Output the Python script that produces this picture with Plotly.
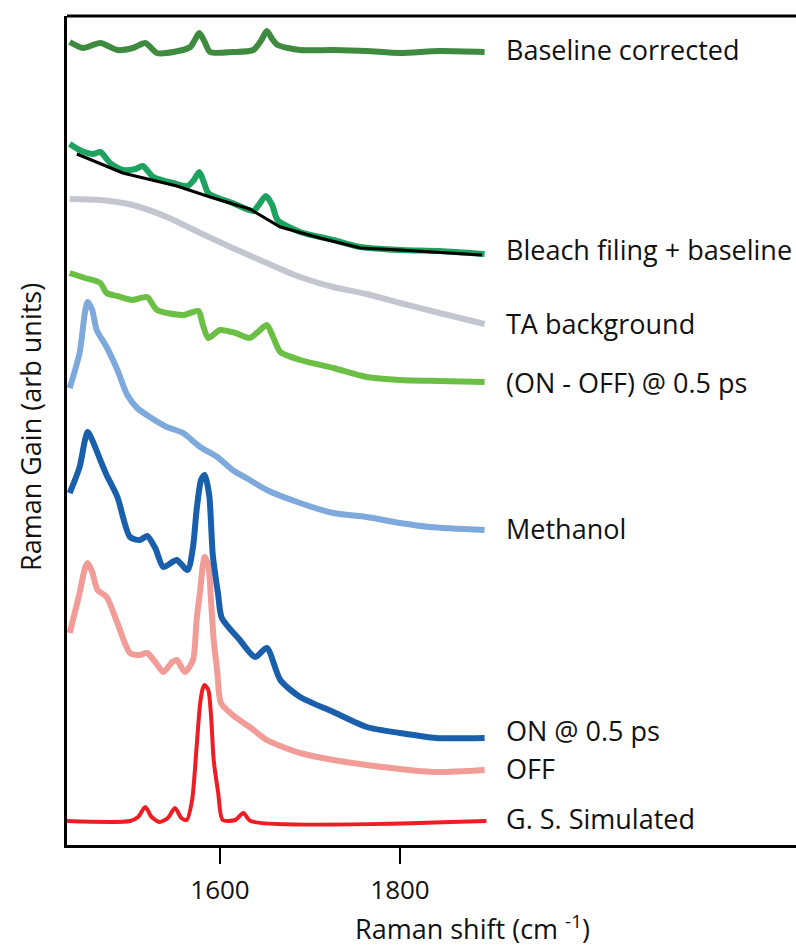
import plotly.graph_objects as go

# Raman shift (cm^-1) and gain (arb. units) for each stacked spectrum
bc_x = [1433, 1448, 1467, 1486, 1503, 1517, 1530, 1548, 1567, 1572, 1577, 1583, 1589, 1614, 1637, 1646, 1652, 1658, 1664, 1689, 1726, 1763, 1800, 1844, 1894]
bc_y = [8.03, 7.97, 8.02, 7.95, 7.97, 8.02, 7.92, 7.93, 7.98, 8.05, 8.12, 8.03, 7.93, 7.93, 7.95, 8.05, 8.14, 8.06, 8.00, 7.95, 7.95, 7.94, 7.92, 7.94, 7.93]

bb_x = [1433, 1444, 1459, 1467, 1478, 1492, 1506, 1514, 1526, 1548, 1564, 1571, 1577, 1582, 1587, 1614, 1637, 1643, 1651, 1658, 1664, 1689, 1726, 1756, 1800, 1844, 1894]
bb_y = [7.01, 6.95, 6.91, 6.93, 6.82, 6.75, 6.76, 6.79, 6.68, 6.62, 6.59, 6.65, 6.73, 6.63, 6.52, 6.42, 6.34, 6.40, 6.49, 6.40, 6.25, 6.13, 6.05, 5.98, 5.95, 5.94, 5.91]

fit_x = [1441, 1492, 1552, 1589, 1633, 1667, 1711, 1756, 1800, 1891]
fit_y = [6.91, 6.72, 6.59, 6.48, 6.36, 6.18, 6.07, 5.97, 5.95, 5.90]

ta_x = [1433, 1467, 1503, 1541, 1578, 1614, 1652, 1689, 1726, 1763, 1800, 1844, 1894]
ta_y = [6.46, 6.45, 6.40, 6.28, 6.12, 5.97, 5.82, 5.68, 5.58, 5.51, 5.42, 5.32, 5.21]

diff_x = [1433, 1450, 1467, 1474, 1486, 1503, 1519, 1530, 1559, 1576, 1581, 1587, 1600, 1617, 1633, 1642, 1652, 1659, 1667, 1689, 1726, 1763, 1800, 1844, 1894]
diff_y = [5.72, 5.67, 5.62, 5.52, 5.49, 5.45, 5.48, 5.35, 5.30, 5.34, 5.20, 5.07, 5.15, 5.12, 5.07, 5.13, 5.20, 5.08, 4.93, 4.85, 4.77, 4.68, 4.65, 4.64, 4.63]

meoh_x = [1433, 1444, 1450, 1453, 1458, 1463, 1474, 1486, 1497, 1508, 1522, 1541, 1559, 1578, 1597, 1614, 1633, 1652, 1689, 1726, 1763, 1800, 1833, 1894]
meoh_y = [4.57, 4.92, 5.33, 5.43, 5.35, 5.15, 4.98, 4.75, 4.50, 4.37, 4.28, 4.18, 4.12, 3.98, 3.88, 3.75, 3.65, 3.55, 3.42, 3.32, 3.28, 3.22, 3.18, 3.15]

on_x = [1433, 1444, 1450, 1453, 1458, 1467, 1474, 1486, 1500, 1511, 1519, 1528, 1537, 1547, 1552, 1564, 1570, 1574, 1579, 1583, 1588, 1592, 1598, 1602, 1622, 1639, 1652, 1667, 1689, 1726, 1763, 1800, 1840, 1894]
on_y = [3.52, 3.78, 4.05, 4.13, 4.05, 3.85, 3.70, 3.48, 3.08, 3.05, 3.09, 2.97, 2.78, 2.83, 2.85, 2.75, 2.98, 3.35, 3.65, 3.70, 3.50, 2.90, 2.50, 2.27, 2.05, 1.88, 1.97, 1.65, 1.48, 1.33, 1.18, 1.12, 1.07, 1.07]

off_x = [1433, 1444, 1450, 1453, 1458, 1464, 1474, 1486, 1500, 1511, 1519, 1528, 1537, 1547, 1552, 1561, 1570, 1574, 1578, 1581, 1583, 1587, 1590, 1593, 1597, 1601, 1614, 1633, 1652, 1670, 1689, 1726, 1763, 1800, 1840, 1894]
off_y = [2.12, 2.52, 2.77, 2.82, 2.73, 2.55, 2.48, 2.22, 1.92, 1.90, 1.92, 1.83, 1.73, 1.83, 1.85, 1.73, 1.85, 2.25, 2.55, 2.80, 2.88, 2.80, 2.45, 2.05, 1.73, 1.42, 1.30, 1.18, 1.05, 0.98, 0.92, 0.85, 0.80, 0.76, 0.73, 0.75]

sim_x = [1430, 1500, 1509, 1517, 1524, 1533, 1542, 1550, 1557, 1563, 1569, 1574, 1578, 1581, 1583, 1587, 1590, 1593, 1598, 1603, 1617, 1626, 1634, 1896]
sim_y = [0.24, 0.24, 0.28, 0.38, 0.28, 0.23, 0.27, 0.37, 0.27, 0.25, 0.45, 0.98, 1.42, 1.57, 1.60, 1.55, 1.30, 0.85, 0.52, 0.25, 0.25, 0.32, 0.24, 0.24]

labels = ["Baseline corrected", "Bleach filing + baseline", "TA background",
          "(ON - OFF) @ 0.5 ps", "Methanol", "ON @ 0.5 ps", "OFF", "G. S. Simulated"]
label_y = [7.96, 5.96, 5.22, 4.63, 3.17, 1.15, 0.77, 0.27]

x_ticks = [1600, 1800]
x_range = [1430, 2240]
y_range = [0, 8.29]
label_x = 1916

FONT = "Open Sans"
TXT = "#111111"

series = [
    (bc_x, bc_y, "#3e8a3f", 6, "spline"),
    (bb_x, bb_y, "#1ea25f", 6, "spline"),
    (fit_x, fit_y, "#000000", 3, "linear"),
    (ta_x, ta_y, "#c3c6cf", 6, "spline"),
    (diff_x, diff_y, "#6cbf45", 6, "spline"),
    (meoh_x, meoh_y, "#7ea9dc", 6, "spline"),
    (off_x, off_y, "#f19c97", 6, "spline"),
    (on_x, on_y, "#1a5fab", 6, "spline"),
    (sim_x, sim_y, "#ee1d24", 4, "spline"),
]

fig = go.Figure()
for xs, ys, color, width, shape in series:
    fig.add_trace(go.Scatter(
        x=xs, y=ys, mode="lines",
        line=dict(color=color, width=width, shape=shape, smoothing=0.7),
        hoverinfo="skip", showlegend=False,
    ))

annotations = []
for text, yv in zip(labels, label_y):
    annotations.append(dict(
        x=label_x, y=yv, xref="x", yref="y", text=text, showarrow=False,
        xanchor="left", yanchor="middle",
        font=dict(family=FONT, size=27, color=TXT),
    ))
annotations.append(dict(
    x=-0.051, y=0.504, xref="paper", yref="paper", text="Raman Gain (arb units)",
    textangle=-90, showarrow=False, xanchor="center", yanchor="middle",
    font=dict(family=FONT, size=27, color=TXT),
))
annotations.append(dict(
    x=0.5556, y=-0.1255, xref="paper", yref="paper",
    text="Raman shift (cm <sup>-1</sup>)", showarrow=False,
    xanchor="center", yanchor="bottom",
    font=dict(family=FONT, size=27, color=TXT),
))

fig.update_layout(
    width=796, height=950,
    margin=dict(l=67, r=0, t=16, b=105),
    paper_bgcolor="white", plot_bgcolor="white",
    annotations=annotations,
    shapes=[dict(type="line", xref="paper", yref="paper", x0=0, x1=1, y0=1, y1=1,
                 line=dict(color="black", width=3))],
    xaxis=dict(range=x_range, tickvals=x_ticks, ticks="outside", ticklen=16,
               tickwidth=2, tickcolor="black", showline=True, linecolor="black",
               linewidth=3, showgrid=False, zeroline=False, ticklabelstandoff=4,
               tickfont=dict(family=FONT, size=26, color=TXT)),
    yaxis=dict(range=y_range, showticklabels=False, ticks="", showline=True,
               linecolor="black", linewidth=3, showgrid=False, zeroline=False),
)

fig.write_html("out.html")
